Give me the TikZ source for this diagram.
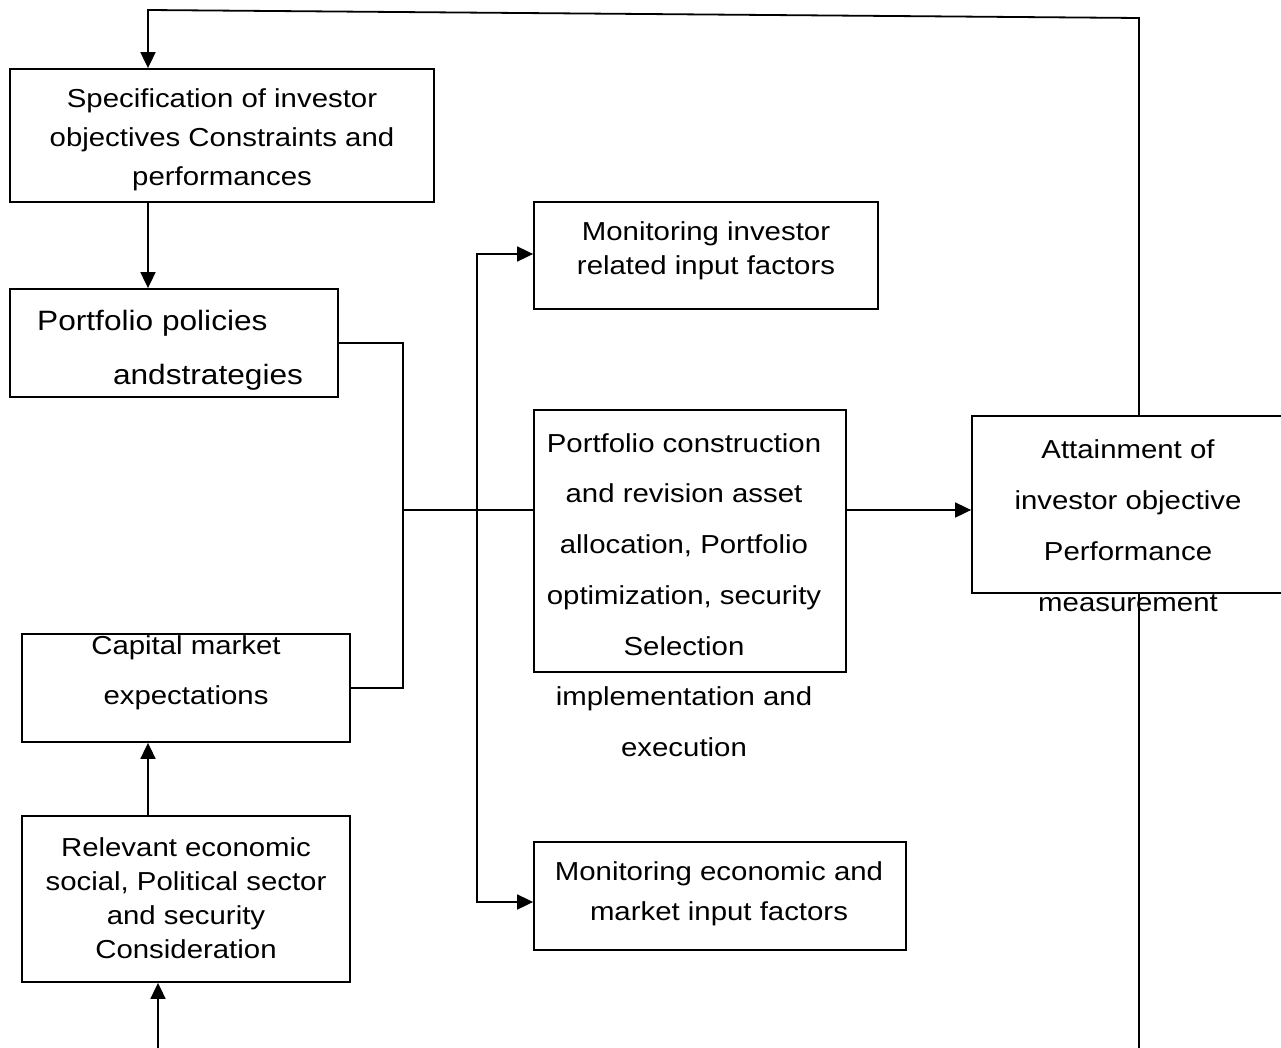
\documentclass[tikz,border=0pt]{standalone}
\usepackage{fontspec}
\setmainfont[FakeStretch=1.13]{Liberation Sans}
\usetikzlibrary{arrows.meta}
\begin{document}
\begin{tikzpicture}[x=1pt,y=-1pt,
  box/.style={draw,line width=1.8pt,inner sep=0pt},
  txt/.style={align=center,inner sep=0pt,font=\fontsize{26}{#1}\selectfont},
  txt/.default=34,
  bigtxt/.style={inner sep=0pt,font=\fontsize{28}{34}\selectfont},
  wire/.style={line width=1.8pt},
  arr/.style={wire,-{Triangle[length=16pt,width=15pt]}},
  darr/.style={wire,{Triangle[length=16pt,width=15pt]}-{Triangle[length=16pt,width=15pt]}}]
\useasboundingbox (0,0) rectangle (1281,1048);
% boxes
\node[box,minimum width=424pt,minimum height=133pt] (spec) at (222,135.5) {};
\node[box,minimum width=328pt,minimum height=108pt] (pol) at (174,343) {};
\node[box,minimum width=328pt,minimum height=108pt] (cap) at (186,688) {};
\node[box,minimum width=328pt,minimum height=166pt] (rel) at (186,899) {};
\node[box,minimum width=344pt,minimum height=107pt] (moninv) at (706,255.5) {};
\node[box,minimum width=312pt,minimum height=262pt] (cons) at (690,541) {};
\node[box,minimum width=372pt,minimum height=108pt] (monecon) at (720,896) {};
\node[box,minimum width=311pt,minimum height=177pt] (att) at (1127.5,504.5) {};
% coordinates
\coordinate (fbx) at (1139,18);
\coordinate (fbl) at (148,10);
\coordinate (j1) at (403,343);
\coordinate (mid) at (403,510);
\coordinate (v) at (477,254);
\coordinate (v2) at (477,902);
\coordinate (bot) at (158,1048);
\coordinate (bot2) at (1139,1048);
% connectors
\draw[arr] (att.north -| fbx) -- (fbx) -- (fbl) -- (spec.north -| fbl);
\draw[arr] (spec.south -| fbl) -- (pol.north -| fbl);
\draw[wire] (pol.east) -- (j1) -- (j1 |- cap.east) -- (cap.east);
\draw[wire] (mid) -- (mid -| cons.west);
\draw[darr] (v -| moninv.west) -- (v) -- (v2) -- (v2 -| monecon.west);
\draw[arr] (mid -| cons.east) -- (mid -| att.west);
\draw[arr] (rel.north -| fbl) -- (cap.south -| fbl);
\draw[arr] (bot) -- (bot |- rel.south);
\draw[wire] (att.south -| fbx) -- (bot2);
% texts
\node[txt=39] (tspec) at (222,140) {Specification of investor\\objectives Constraints and\\performances};
\node[bigtxt,anchor=west] (tpol1) at (37,323) {Portfolio policies};
\node[bigtxt] (tpol2) at (208,377) {andstrategies};
\node[txt=50] (tcap) at (186,673) {Capital market\\expectations};
\node[txt=34] (trel) at (186,898.5) {Relevant economic\\social, Political sector\\and security\\Consideration};
\node[txt=34] (tmoninv) at (706,251) {Monitoring investor\\related input factors};
\node[txt=50.7] (tcons) at (684,595) {Portfolio construction\\and revision asset\\allocation, Portfolio\\optimization, security\\Selection\\implementation and\\execution};
\node[txt=40] (tmonecon) at (719,894) {Monitoring economic and\\market input factors};
\node[txt=51] (tatt) at (1128,526) {Attainment of\\investor objective\\Performance\\measurement};
\end{tikzpicture}
\end{document}
